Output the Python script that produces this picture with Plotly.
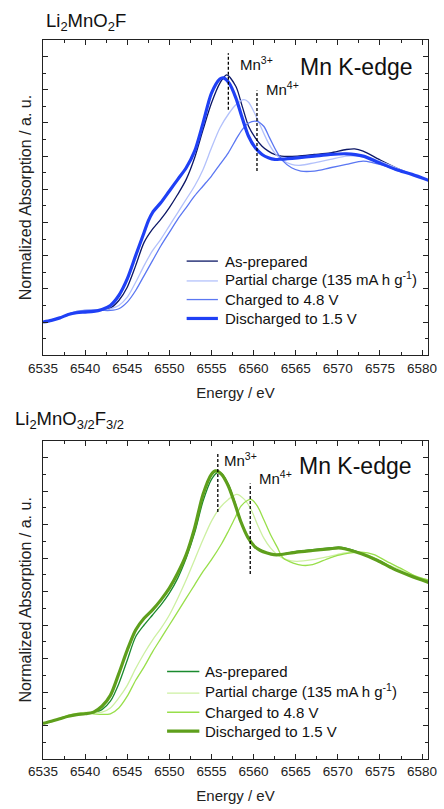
import plotly.graph_objects as go

# ---------------- DATA ----------------
LEGEND_NAMES = ["As-prepared", "Partial charge (135 mA h g<sup>-1</sup>)",
                "Charged to 4.8 V", "Discharged to 1.5 V"]
X_TICKS = [6535, 6540, 6545, 6550, 6555, 6560, 6565, 6570, 6575, 6580]

# Top panel: Li2MnO2F
top_asp_e = [6535, 6536, 6537, 6538, 6539, 6540, 6541, 6542, 6543, 6544, 6545, 6546, 6547, 6548, 6548.5, 6549,
             6550, 6551, 6552, 6553, 6554, 6555, 6556, 6556.8, 6557.9, 6558.65, 6559.4, 6560.2, 6561, 6561.75,
             6562.5, 6563.3, 6565.2, 6567.2, 6569.1, 6571, 6572, 6573, 6574.9, 6576.9, 6578.8, 6581]
top_asp_v = [0.0, 0.01, 0.025, 0.045, 0.058, 0.064, 0.066, 0.07, 0.084, 0.13, 0.21, 0.34, 0.48, 0.56, 0.59, 0.62,
             0.69, 0.77, 0.86, 0.99, 1.16, 1.32, 1.44, 1.49, 1.42, 1.30, 1.18, 1.11, 1.06, 1.03,
             1.01, 1.0, 1.0, 1.01, 1.02, 1.04, 1.044, 1.03, 0.98, 0.93, 0.89, 0.85]

top_par_e = [6535, 6536, 6537, 6538, 6539, 6540, 6541, 6542, 6543, 6544, 6545, 6546, 6547, 6548, 6549, 6550,
             6551, 6552, 6553, 6554, 6555, 6556, 6557.1, 6557.9, 6558.85, 6559.4, 6560.2, 6561, 6561.75, 6562.5,
             6563.3, 6564.5, 6565.6, 6567.2, 6569.1, 6571, 6572.2, 6573.8, 6574.9, 6576.9, 6578.8, 6581]
top_par_v = [0.0, 0.01, 0.025, 0.047, 0.064, 0.072, 0.073, 0.071, 0.08, 0.10, 0.15, 0.24, 0.34, 0.43, 0.50, 0.58,
             0.66, 0.74, 0.82, 0.92, 1.05, 1.17, 1.26, 1.31, 1.34, 1.325, 1.25, 1.16, 1.08, 1.02,
             0.98, 0.95, 0.945, 0.96, 0.98, 1.0, 1.0, 0.99, 0.97, 0.93, 0.89, 0.85]

top_chg_e = [6535, 6536, 6537, 6538, 6539, 6540, 6541, 6542, 6543, 6544, 6545, 6546, 6547, 6548, 6549, 6550,
             6551, 6552, 6553, 6554, 6555, 6556, 6557, 6557.9, 6558.65, 6559.4, 6560.4, 6561.2, 6561.9, 6562.7,
             6563.5, 6564.5, 6565.6, 6567.2, 6569.1, 6571, 6573, 6574.2, 6575.7, 6577.3, 6578.8, 6581]
top_chg_v = [0.0, 0.01, 0.025, 0.047, 0.064, 0.07, 0.071, 0.07, 0.07, 0.08, 0.12, 0.19, 0.28, 0.37, 0.46, 0.54,
             0.62, 0.69, 0.76, 0.82, 0.88, 0.95, 1.02, 1.10, 1.16, 1.20, 1.21, 1.18, 1.11, 1.03,
             0.97, 0.93, 0.91, 0.91, 0.93, 0.95, 0.97, 0.96, 0.94, 0.91, 0.89, 0.85]

top_dis_e = [6535, 6536, 6537, 6538, 6539, 6540, 6541, 6542, 6543, 6544, 6545, 6546, 6547, 6547.5, 6548, 6549,
             6550, 6551, 6552, 6553, 6554, 6555, 6556, 6556.4, 6557.1, 6557.9, 6558.65, 6559.4, 6560.2, 6561,
             6561.75, 6562.5, 6563.3, 6565.2, 6567.2, 6569.1, 6571, 6573, 6574.9, 6576.9, 6578.8, 6581]
top_dis_v = [0.0, 0.01, 0.025, 0.045, 0.056, 0.06, 0.064, 0.076, 0.10, 0.16, 0.26, 0.40, 0.54, 0.61, 0.66, 0.72,
             0.79, 0.86, 0.93, 1.03, 1.20, 1.38, 1.465, 1.472, 1.44, 1.35, 1.23, 1.12, 1.05, 1.01,
             0.99, 0.98, 0.982, 0.99, 1.0, 1.01, 1.014, 1.0, 0.96, 0.92, 0.89, 0.85]

# Bottom panel: Li2MnO3/2F3/2
bot_asp_e = [6535, 6536, 6537, 6538, 6539, 6540, 6541, 6542, 6543, 6544, 6545, 6546, 6547, 6548, 6549, 6550,
             6551, 6552, 6553, 6554, 6555, 6555.7, 6556.2, 6557, 6557.8, 6558.5, 6559.3, 6560.1, 6560.8, 6561.6,
             6562.4, 6563.1, 6565.1, 6567, 6569, 6570.1, 6570.8, 6572.8, 6574.7, 6576.6, 6578.5, 6581]
bot_asp_v = [0.012, 0.025, 0.04, 0.055, 0.065, 0.07, 0.076, 0.095, 0.145, 0.25, 0.39, 0.53, 0.60, 0.66, 0.72, 0.79,
             0.88, 1.0, 1.15, 1.34, 1.47, 1.51, 1.505, 1.44, 1.33, 1.22, 1.13, 1.07, 1.05, 1.03,
             1.02, 1.02, 1.04, 1.05, 1.06, 1.065, 1.06, 1.03, 0.99, 0.94, 0.90, 0.855]

bot_par_e = [6535, 6536, 6537, 6538, 6539, 6540, 6541, 6542, 6543, 6544, 6545, 6546, 6547, 6548, 6549, 6550,
             6551, 6552, 6553, 6554, 6555, 6556, 6557, 6558, 6558.9, 6559.7, 6560.45, 6561.2, 6562, 6562.8,
             6563.9, 6565.1, 6567, 6569, 6570.8, 6572, 6573.5, 6575.45, 6577.4, 6579.3, 6581]
bot_par_v = [0.012, 0.025, 0.042, 0.06, 0.072, 0.078, 0.08, 0.08, 0.105, 0.165, 0.24, 0.34, 0.43, 0.51, 0.58, 0.66,
             0.76, 0.87, 0.99, 1.11, 1.22, 1.30, 1.35, 1.38, 1.35, 1.29, 1.20, 1.12, 1.06, 1.02,
             0.99, 0.98, 0.99, 1.01, 1.03, 1.035, 1.02, 0.97, 0.93, 0.89, 0.865]

bot_chg_e = [6535, 6536, 6537, 6538, 6539, 6540, 6541, 6542, 6543, 6544, 6545, 6546, 6547, 6548, 6549, 6550,
             6551, 6552, 6553, 6554, 6555, 6556.2, 6557, 6557.8, 6558.5, 6559.3, 6559.7, 6560.45, 6561.2, 6562,
             6562.8, 6563.5, 6564.7, 6565.8, 6567, 6569, 6570.8, 6572.8, 6574.3, 6575.8, 6577.8, 6579.3, 6581]
bot_chg_v = [0.012, 0.025, 0.042, 0.06, 0.07, 0.073, 0.07, 0.066, 0.07, 0.105, 0.175, 0.27, 0.35, 0.44, 0.52, 0.60,
             0.68, 0.76, 0.84, 0.92, 0.99, 1.085, 1.16, 1.24, 1.31, 1.345, 1.35, 1.31, 1.23, 1.14,
             1.065, 1.0, 0.97, 0.956, 0.96, 1.0, 1.025, 1.035, 1.02, 0.98, 0.93, 0.89, 0.865]

bot_dis_e = [6535, 6536, 6537, 6538, 6539, 6540, 6541, 6542, 6543, 6544, 6545, 6546, 6547, 6548, 6549, 6550,
             6551, 6552, 6553, 6554, 6555, 6555.5, 6556.2, 6557, 6557.8, 6558.5, 6559.3, 6560.1, 6560.8, 6561.6,
             6562.4, 6563.1, 6565.1, 6567, 6569, 6570.1, 6570.8, 6572.8, 6574.7, 6576.6, 6578.5, 6581]
bot_dis_v = [0.012, 0.025, 0.04, 0.055, 0.065, 0.07, 0.08, 0.115, 0.18, 0.31, 0.45, 0.57, 0.64, 0.69, 0.75, 0.82,
             0.91, 1.02, 1.18, 1.38, 1.50, 1.52, 1.50, 1.43, 1.32, 1.215, 1.125, 1.07, 1.045, 1.03,
             1.02, 1.02, 1.035, 1.045, 1.055, 1.06, 1.055, 1.025, 0.985, 0.935, 0.895, 0.85]

# Mn oxidation-state reference energies (eV) and marker spans
MN3_E = [6557.0, 6555.75]
MN4_E = [6560.4, 6559.6]
MN3_SPAN = [(1.28, 1.62), (1.275, 1.63)]
MN4_SPAN = [(0.91, 1.395), (0.905, 1.445)]

# ---------------- STYLE ----------------
TOP_COLORS = ["#0c1766", "#b3c1fb", "#5b77f2", "#1f40f5"]
BOT_COLORS = ["#1a8a2e", "#cdf0a2", "#98df4a", "#5e9f1c"]
WIDTHS = [1.3, 1.3, 1.3, 3.2]
FONT = "Liberation Sans, Arial, sans-serif"

# manual legend geometry (paper fractions)
LEG_TOP = dict(x0=0.3731, x1=0.4543, xt=0.467, ys=[0.6925, 0.6649, 0.6390, 0.6127])
LEG_BOT = dict(x0=0.3223, x1=0.4061, xt=0.4162, ys=[0.1217, 0.0917, 0.0650, 0.0387])

fig = go.Figure()

top_sets = [(top_asp_e, top_asp_v), (top_par_e, top_par_v), (top_chg_e, top_chg_v), (top_dis_e, top_dis_v)]
bot_sets = [(bot_asp_e, bot_asp_v), (bot_par_e, bot_par_v), (bot_chg_e, bot_chg_v), (bot_dis_e, bot_dis_v)]

for i, (e, v) in enumerate(top_sets):
    fig.add_trace(go.Scatter(x=e, y=v, mode="lines", name=LEGEND_NAMES[i], showlegend=False,
                             line=dict(color=TOP_COLORS[i], width=WIDTHS[i], shape="spline", smoothing=0.8),
                             xaxis="x", yaxis="y"))
for i, (e, v) in enumerate(bot_sets):
    fig.add_trace(go.Scatter(x=e, y=v, mode="lines", name=LEGEND_NAMES[i], showlegend=False,
                             line=dict(color=BOT_COLORS[i], width=WIDTHS[i], shape="spline", smoothing=0.8),
                             xaxis="x2", yaxis="y2"))

# dashed markers
for k, (xa, ya) in enumerate([("x", "y"), ("x2", "y2")]):
    for ev, span in ((MN3_E[k], MN3_SPAN[k]), (MN4_E[k], MN4_SPAN[k])):
        fig.add_shape(type="line", xref=xa, yref=ya, x0=ev, x1=ev, y0=span[0], y1=span[1],
                      line=dict(color="black", width=1.3, dash="3px,2px"))

ann = []
# manual legends
for leg, colors in ((LEG_TOP, TOP_COLORS), (LEG_BOT, BOT_COLORS)):
    for i, name in enumerate(LEGEND_NAMES):
        yy = leg["ys"][i]
        fig.add_shape(type="line", xref="paper", yref="paper", x0=leg["x0"], x1=leg["x1"], y0=yy, y1=yy,
                      line=dict(color=colors[i], width=WIDTHS[i]))
        dy = 0.003 if "sup" in name else 0.0
        ann.append(dict(text=name, xref="paper", yref="paper", x=leg["xt"], y=yy + dy, xanchor="left",
                        yanchor="middle", showarrow=False, font=dict(family=FONT, size=15, color="#111")))

xaxis_common = dict(range=[6535, 6580.7], tickvals=X_TICKS, ticks="inside", ticklen=5, tickwidth=1.2,
                    tickcolor="#222", showline=True, linecolor="#222", linewidth=1.4, mirror="ticks",
                    showgrid=False, zeroline=False, ticklabeloverflow="allow",
                    minor=dict(dtick=2.5, tick0=6535, ticks="inside", ticklen=3, tickwidth=1.1, tickcolor="#222"),
                    tickfont=dict(family=FONT, size=13.5, color="#222"),
                    title=dict(text="Energy / eV", font=dict(family=FONT, size=15, color="#222"), standoff=12))
yaxis_common = dict(range=[-0.2, 1.7], dtick=0.2, tick0=0, ticks="inside", ticklen=5, tickwidth=1.2,
                    tickcolor="#222", showline=True, linecolor="#222", linewidth=1.4, mirror="ticks",
                    showgrid=False, zeroline=False, showticklabels=False,
                    minor=dict(dtick=0.1, tick0=0, ticks="inside", ticklen=3, tickwidth=1.1, tickcolor="#222"),
                    title=dict(text="Normalized Absorption / a. u.", font=dict(family=FONT, size=16, color="#222"),
                               standoff=6))

TOP_DOM = [0.5616, 1.0]
BOT_DOM = [0.0, 0.4426]

fig.update_layout(
    width=444, height=809,
    margin=dict(l=43, r=7, t=40, b=46),
    paper_bgcolor="white", plot_bgcolor="white",
    font=dict(family=FONT, color="#111"),
    xaxis=dict(**xaxis_common, domain=[0, 1], anchor="y"),
    yaxis=dict(**yaxis_common, domain=TOP_DOM, anchor="x"),
    xaxis2=dict(**xaxis_common, domain=[0, 1], anchor="y2"),
    yaxis2=dict(**yaxis_common, domain=BOT_DOM, anchor="x2"),
    showlegend=False,
)

# panel titles
ann.append(dict(text="Li<sub>2</sub>MnO<sub>2</sub>F", xref="paper", yref="paper", x=0.003, y=1.025,
                xanchor="left", yanchor="middle", showarrow=False, font=dict(family=FONT, size=18.5, color="#111")))
ann.append(dict(text="Li<sub>2</sub>MnO<sub>3/2</sub>F<sub>3/2</sub>", xref="paper", yref="paper", x=-0.078,
                y=0.471, xanchor="left", yanchor="middle", showarrow=False,
                font=dict(family=FONT, size=18.5, color="#111")))
# Mn K-edge
ann.append(dict(text="Mn K-edge", xref="x", yref="y", x=6579.2, y=1.535, xanchor="right", yanchor="middle",
                showarrow=False, font=dict(family=FONT, size=23, color="#111")))
ann.append(dict(text="Mn K-edge", xref="x2", yref="y2", x=6579.0, y=1.55, xanchor="right", yanchor="middle",
                showarrow=False, font=dict(family=FONT, size=23, color="#111")))
# Mn3+/Mn4+ labels
ann.append(dict(text="Mn<sup>3+</sup>", xref="x", yref="y", x=6558.2, y=1.56, xanchor="left", yanchor="middle",
                showarrow=False, font=dict(family=FONT, size=15, color="#111")))
ann.append(dict(text="Mn<sup>4+</sup>", xref="x", yref="y", x=6561.2, y=1.41, xanchor="left", yanchor="middle",
                showarrow=False, font=dict(family=FONT, size=15, color="#111")))
ann.append(dict(text="Mn<sup>3+</sup>", xref="x2", yref="y2", x=6556.3, y=1.59, xanchor="left", yanchor="middle",
                showarrow=False, font=dict(family=FONT, size=15, color="#111")))
ann.append(dict(text="Mn<sup>4+</sup>", xref="x2", yref="y2", x=6560.4, y=1.48, xanchor="left", yanchor="middle",
                showarrow=False, font=dict(family=FONT, size=15, color="#111")))
fig.update_layout(annotations=ann)

fig.write_html("out.html", config={"displayModeBar": False},
               post_script="document.body.style.margin='0px';")
